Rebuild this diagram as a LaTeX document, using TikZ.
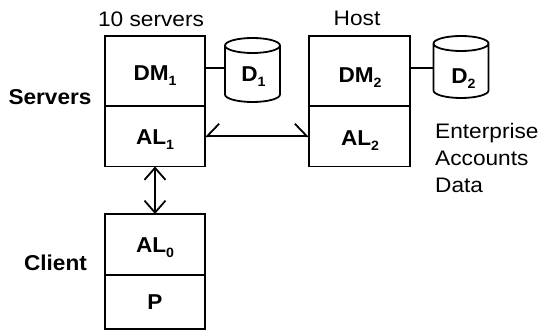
\documentclass[tikz,border=0pt]{standalone}
\usepackage{fontspec}
\usetikzlibrary{arrows.meta,calc}
\newfontfamily\rf{Liberation Sans}[FakeStretch=1.08]
\newfontfamily\bfam{Liberation Sans}[FakeStretch=1.05]
\newcommand\sbs[1]{\raisebox{-5pt}{\fontsize{13.5}{13.5}\selectfont #1}}
\tikzset{
  lw/.style={line width=1.8pt},
  boxc/.style={draw, lw, minimum width=100pt, inner sep=0pt, outer sep=0pt},
  lbl/.style={font=\rf\fontsize{21}{24}\selectfont, anchor=base, inner sep=0pt},
  blbl/.style={font=\bfam\bfseries\fontsize{21.5}{24}\selectfont, anchor=base, inner sep=0pt},
  cylbox/.style={minimum width=55pt, inner sep=0pt, outer sep=0pt},
  arr/.style={lw, {Straight Barb[length=12pt,width=21pt]}-{Straight Barb[length=12pt,width=21pt]}},
  harr/.style={lw, {Straight Barb[length=12pt,width=25pt,harpoon,swap]}-{Straight Barb[length=12pt,width=25pt,harpoon]}},
}
\newcommand\cyl[4]{% name, cx, top, bottom
  \node[cylbox, minimum height={#4-#3}] (#1) at (#2,{-(#3+#4)/2}) {};
  \draw[lw] ($(#1.north west)+(0,-7.5)$) -- ($(#1.south west)+(0,7.5)$)
     arc[start angle=180,end angle=360,x radius=27.5,y radius=7.5]
     -- ($(#1.north east)+(0,-7.5)$)
     arc[start angle=0,end angle=360,x radius=27.5,y radius=7.5];
}
\begin{document}
\begin{tikzpicture}[x=1pt,y=1pt]
\useasboundingbox (0,0) rectangle (542,-331);
% boxes
\node[boxc, minimum height=70pt] (dm1) at (155,-71) {};
\node[boxc, minimum height=60.5pt] (al1) at (155,-136.25) {};
\node[boxc, minimum width=101pt, minimum height=70pt] (dm2) at (359.5,-71) {};
\node[boxc, minimum width=101pt, minimum height=60.5pt] (al2) at (359.5,-136.25) {};
\node[boxc, minimum height=61pt] (al0) at (155,-244.5) {};
\node[boxc, minimum height=54pt] (p) at (155,-302) {};
% box texts
\node[blbl] (dm1t) at (155,-80.5) {DM\sbs{1}};
\node[blbl] (al1t) at (155,-145) {AL\sbs{1}};
\node[blbl] (dm2t) at (360,-83) {DM\sbs{2}};
\node[blbl] (al2t) at (360,-145.5) {AL\sbs{2}};
\node[blbl] (al0t) at (155,-253) {AL\sbs{0}};
\node[blbl] (pt) at (155,-310) {P};
% cylinders
\cyl{d1}{252.5}{38}{102}
\cyl{d2}{461}{36}{98}
\node[blbl] (d1t) at (253.5,-82) {D\sbs{1}};
\node[blbl] (d2t) at (463.5,-83.3) {D\sbs{2}};
% connectors
\draw[lw] (dm1.east |- 0,-68) -- (d1.west |- 0,-68);
\draw[lw] (dm2.east |- 0,-68) -- (d2.west |- 0,-68);
\draw[harr] (al1.east) -- (al2.west);
\draw[arr] (al1.south) -- (al0.north);
% labels
\node[lbl] (ten) at (151,-26.5) {10 servers};
\node[lbl] (host) at (357,-26) {Host};
\node[blbl] (servers) at (50,-104.5) {Servers};
\node[blbl] (client) at (55.5,-271) {Client};
\node[lbl, anchor=base west] (e1) at (435,-139) {Enterprise};
\node[lbl, anchor=base west] (e2) at (435,-166) {Accounts};
\node[lbl, anchor=base west] (e3) at (435,-193) {Data};
\end{tikzpicture}
\end{document}
